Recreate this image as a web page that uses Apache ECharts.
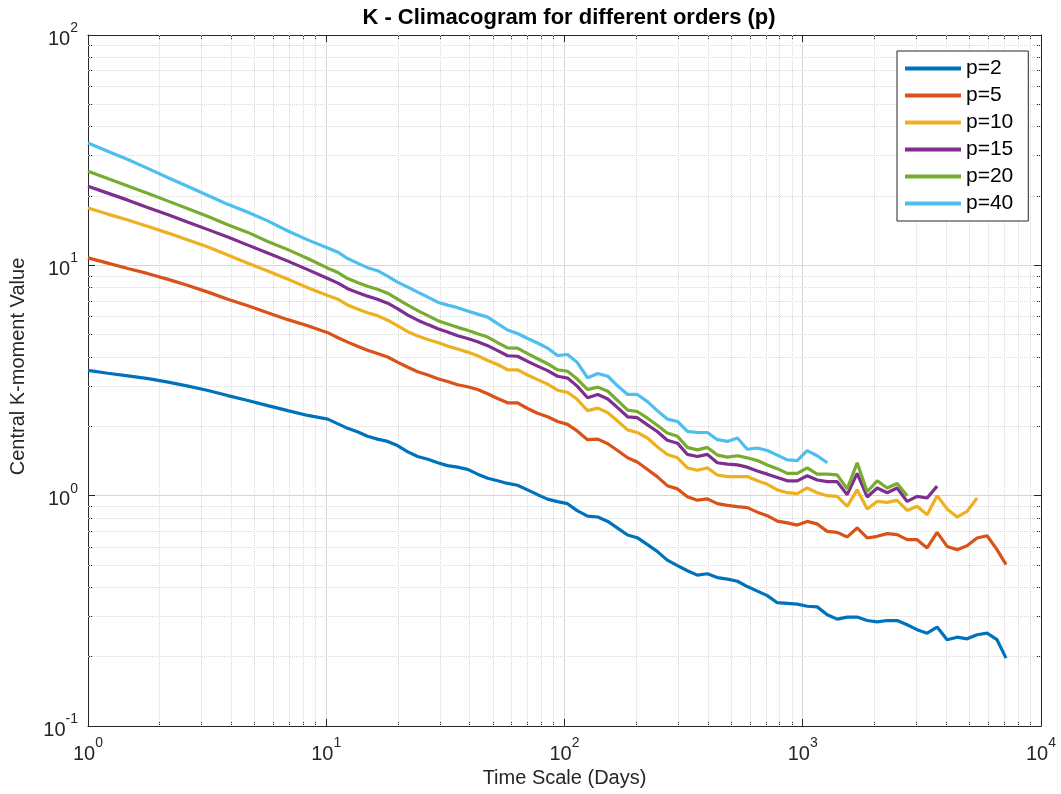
<!DOCTYPE html>
<html>
<head>
<meta charset="utf-8">
<title>K - Climacogram for different orders (p)</title>
<script src="https://cdn.jsdelivr.net/npm/echarts@6/dist/echarts.min.js"></script>
<style>
  html, body { margin: 0; padding: 0; background: #fff; }
  #chart { width: 1061px; height: 794px; }
</style>
</head>
<body>
<div id="chart"></div>
<script>
// time scales (days), shared by every order
const scales = [1, 1.21, 1.47, 1.79, 2.17, 2.63, 3.19, 3.86, 4.69, 5.68, 6.9, 8.36, 10.15,
  11.2, 12.3, 13.6, 14.9, 16.4, 18.1, 19.9, 22.0, 24.2, 26.7,
  29.4, 32.3, 35.6, 39.2, 43.2, 47.6, 52.4, 57.7, 63.5, 70.0,
  77.1, 84.9, 93.5, 103, 113, 125, 138, 152, 167, 184,
  202, 223, 245, 270, 298, 328, 361, 398, 438, 483,
  532, 585, 645, 710, 782, 861, 948, 1044, 1150, 1267,
  1395, 1537, 1692, 1864, 2053, 2261, 2490, 2743, 3021, 3327,
  3664, 4036, 4444, 4894, 5391, 5937, 6538, 7132];

// central K-moment values per order p
const p2 = [3.50, 3.40, 3.31, 3.22, 3.11, 2.99, 2.86, 2.72, 2.59, 2.46, 2.34, 2.23, 2.15,
  2.05, 1.96, 1.89, 1.81, 1.76, 1.72, 1.65, 1.55, 1.48, 1.44,
  1.39, 1.35, 1.33, 1.30, 1.24, 1.19, 1.16, 1.13, 1.11, 1.06,
  1.01, 0.966, 0.942, 0.923, 0.861, 0.815, 0.808, 0.773, 0.723, 0.675,
  0.657, 0.613, 0.573, 0.525, 0.497, 0.472, 0.452, 0.458, 0.441, 0.434,
  0.425, 0.403, 0.385, 0.368, 0.343, 0.341, 0.338, 0.331, 0.329, 0.304,
  0.291, 0.297, 0.297, 0.287, 0.283, 0.287, 0.287, 0.275, 0.262, 0.253,
  0.269, 0.237, 0.243, 0.239, 0.249, 0.253, 0.237, 0.197];
const p5 = [10.77, 10.22, 9.69, 9.20, 8.69, 8.17, 7.65, 7.13, 6.68, 6.23, 5.81, 5.47, 5.10,
  4.85, 4.64, 4.44, 4.28, 4.14, 4.00, 3.80, 3.61, 3.45, 3.34,
  3.22, 3.13, 3.03, 2.97, 2.89, 2.77, 2.64, 2.53, 2.53, 2.39,
  2.28, 2.20, 2.10, 2.04, 1.91, 1.75, 1.76, 1.68, 1.57, 1.46,
  1.40, 1.30, 1.21, 1.105, 1.07, 0.990, 0.956, 0.968, 0.923, 0.907,
  0.896, 0.887, 0.848, 0.819, 0.775, 0.762, 0.745, 0.773, 0.754, 0.700,
  0.693, 0.662, 0.724, 0.655, 0.666, 0.684, 0.677, 0.644, 0.644, 0.593,
  0.693, 0.602, 0.583, 0.606, 0.655, 0.670, 0.583, 0.502];
const p10 = [17.75, 16.69, 15.72, 14.75, 13.80, 12.87, 12.00, 11.08, 10.22, 9.44, 8.71, 8.00, 7.39,
  7.13, 6.72, 6.45, 6.23, 6.05, 5.78, 5.47, 5.15, 4.93, 4.76,
  4.62, 4.46, 4.33, 4.20, 4.05, 3.86, 3.71, 3.52, 3.52, 3.34,
  3.19, 3.05, 2.87, 2.81, 2.62, 2.34, 2.40, 2.29, 2.11, 1.93,
  1.88, 1.78, 1.63, 1.51, 1.46, 1.32, 1.29, 1.32, 1.23, 1.21,
  1.21, 1.21, 1.16, 1.12, 1.06, 1.03, 1.02, 1.08, 1.03, 1.00,
  0.993, 0.899, 1.06, 0.876, 0.944, 0.935, 0.954, 0.863, 0.899, 0.827,
  1.00, 0.876, 0.808, 0.855, 0.977];
const p15 = [22.03, 20.58, 19.19, 17.80, 16.60, 15.40, 14.29, 13.26, 12.24, 11.30, 10.43, 9.58, 8.76,
  8.37, 7.92, 7.61, 7.35, 7.13, 6.85, 6.49, 6.08, 5.78, 5.53,
  5.30, 5.13, 4.95, 4.81, 4.66, 4.48, 4.26, 4.05, 4.03, 3.83,
  3.65, 3.49, 3.30, 3.24, 2.99, 2.66, 2.75, 2.63, 2.41, 2.20,
  2.18, 2.03, 1.90, 1.74, 1.69, 1.51, 1.48, 1.51, 1.39, 1.37,
  1.36, 1.33, 1.28, 1.24, 1.20, 1.16, 1.16, 1.22, 1.17, 1.15,
  1.15, 1.01, 1.25, 0.987, 1.08, 1.03, 1.08, 0.944, 0.993, 0.977,
  1.10];
const p20 = [25.6, 23.8, 22.1, 20.5, 19.0, 17.6, 16.3, 15.0, 13.9, 12.7, 11.7, 10.7, 9.72,
  9.30, 8.76, 8.41, 8.12, 7.88, 7.57, 7.13, 6.72, 6.36, 6.05,
  5.75, 5.56, 5.38, 5.23, 5.05, 4.88, 4.62, 4.38, 4.37, 4.14,
  3.93, 3.74, 3.52, 3.47, 3.21, 2.89, 2.96, 2.84, 2.59, 2.35,
  2.32, 2.17, 2.02, 1.87, 1.81, 1.62, 1.58, 1.62, 1.50, 1.47,
  1.49, 1.46, 1.42, 1.36, 1.31, 1.25, 1.25, 1.32, 1.24, 1.24,
  1.23, 1.07, 1.39, 1.04, 1.16, 1.08, 1.13, 1.00];
const p40 = [34.0, 31.3, 28.8, 26.3, 24.0, 22.0, 20.1, 18.4, 17.0, 15.6, 14.1, 12.9, 11.9,
  11.4, 10.7, 10.2, 9.77, 9.48, 8.98, 8.45, 8.04, 7.65, 7.28,
  6.92, 6.72, 6.55, 6.33, 6.14, 5.96, 5.58, 5.24, 5.06, 4.81,
  4.60, 4.37, 4.06, 4.10, 3.79, 3.25, 3.39, 3.30, 3.00, 2.75,
  2.75, 2.56, 2.34, 2.15, 2.10, 1.90, 1.88, 1.88, 1.75, 1.72,
  1.78, 1.59, 1.61, 1.57, 1.50, 1.43, 1.42, 1.57, 1.49, 1.39];

const seriesNames = ['p=2', 'p=5', 'p=10', 'p=15', 'p=20', 'p=40'];

// minor grid / tick positions (log axes)
const minorX = [2, 3, 4, 5, 6, 7, 8, 9, 20, 30, 40, 50, 60, 70, 80, 90,
  200, 300, 400, 500, 600, 700, 800, 900, 2000, 3000, 4000, 5000, 6000, 7000, 8000, 9000];
const minorY = [0.2, 0.3, 0.4, 0.5, 0.6, 0.7, 0.8, 0.9, 2, 3, 4, 5, 6, 7, 8, 9,
  20, 30, 40, 50, 60, 70, 80, 90];

const colors = ['#0072BD', '#D95319', '#EDB120', '#7E2F8E', '#77AC30', '#4DBEEE'];
const font = "'Liberation Sans', Arial, Helvetica, sans-serif";
const axisColor = '#262626';

// 10^n tick labels
function powLabel(v) {
    const e = Math.round(Math.log10(v));
    return '{b|10}{s|' + e + '}';
}
const labelRich = {
    b: { fontSize: 20, fontFamily: font, color: axisColor, lineHeight: 28, verticalAlign: 'bottom' },
    s: { fontSize: 14, fontFamily: font, color: axisColor, lineHeight: 28, verticalAlign: 'top' }
};

let myChart = echarts.init(document.getElementById('chart'));

const allValues = [p2, p5, p10, p15, p20, p40];
let lines = allValues.map((vals, k) => ({
    name: seriesNames[k],
    type: 'line',
    symbol: 'none',
    zlevel: 1,
    z: 3,
    lineStyle: { width: 3.2, color: colors[k] },
    itemStyle: { color: colors[k] },
    data: vals.map((v, i) => [scales[i], v])
}));

// dotted minor grid, on the bottom layer under the curves
lines.unshift({
    name: 'minorGrid',
    type: 'line',
    data: [],
    zlevel: 0,
    z: 0,
    silent: true,
    markLine: {
        silent: true,
        symbol: ['none', 'none'],
        label: { show: false },
        animation: false,
        lineStyle: { type: 'dotted', color: '#dadada', width: 1 },
        data: minorX.map(v => ({ xAxis: v })).concat(minorY.map(v => ({ yAxis: v })))
    }
});

const boxLine = { show: true, onZero: false, lineStyle: { color: axisColor, width: 1 } };
const boxTick = { show: true, inside: true, length: 7, lineStyle: { color: axisColor } };

// axes that only carry the short minor ticks
function minorAxis(pos, min, max, vals) {
    return {
        type: 'log',
        logBase: 10,
        min: min,
        max: max,
        position: pos,
        axisLine: { show: false, onZero: false },
        axisTick: { show: true, inside: true, length: 4, customValues: vals, lineStyle: { color: axisColor } },
        axisLabel: { show: false },
        splitLine: { show: false }
    };
}

myChart.setOption({
    animation: false,
    backgroundColor: '#fff',
    title: {
        text: 'K - Climacogram for different orders (p)',
        left: 564,
        textAlign: 'center',
        top: 2,
        textStyle: { fontSize: 22, fontWeight: 'bold', fontFamily: font, color: '#000' }
    },
    grid: { left: 88, right: 20, top: 35, bottom: 68, containLabel: false },
    legend: {
        data: seriesNames,
        orient: 'vertical',
        left: 897,
        top: 51,
        zlevel: 2,
        padding: [7, 15, 7, 8],
        itemGap: 6,
        itemWidth: 56,
        itemHeight: 4,
        icon: 'rect',
        itemStyle: { borderWidth: 0 },
        borderColor: axisColor,
        borderWidth: 1,
        borderRadius: 0,
        backgroundColor: '#fff',
        textStyle: { fontSize: 21, fontFamily: font, color: '#000' }
    },
    xAxis: [{
        type: 'log',
        logBase: 10,
        min: 1,
        max: 10000,
        position: 'bottom',
        axisLine: boxLine,
        axisTick: boxTick,
        splitLine: { show: true, lineStyle: { color: '#d6d6d6', width: 1 } },
        axisLabel: { formatter: powLabel, rich: labelRich, margin: 10 },
        name: 'Time Scale (Days)',
        nameLocation: 'middle',
        nameGap: 41,
        nameTextStyle: { fontSize: 20, fontFamily: font, color: axisColor }
    }, {
        type: 'log',
        logBase: 10,
        min: 1,
        max: 10000,
        position: 'top',
        axisLine: boxLine,
        axisTick: boxTick,
        splitLine: { show: false },
        axisLabel: { show: false }
    },
    minorAxis('bottom', 1, 10000, minorX),
    minorAxis('top', 1, 10000, minorX)],
    yAxis: [{
        type: 'log',
        logBase: 10,
        min: 0.1,
        max: 100,
        position: 'left',
        axisLine: boxLine,
        axisTick: boxTick,
        splitLine: { show: true, lineStyle: { color: '#d6d6d6', width: 1 } },
        axisLabel: { formatter: powLabel, rich: labelRich, margin: 10 },
        name: 'Central K-moment Value',
        nameLocation: 'middle',
        nameGap: 60,
        nameTextStyle: { fontSize: 20, fontFamily: font, color: axisColor, padding: [0, 0, 0, 28] }
    }, {
        type: 'log',
        logBase: 10,
        min: 0.1,
        max: 100,
        position: 'right',
        axisLine: boxLine,
        axisTick: boxTick,
        splitLine: { show: false },
        axisLabel: { show: false }
    },
    minorAxis('left', 0.1, 100, minorY),
    minorAxis('right', 0.1, 100, minorY)],
    series: lines
});
</script>
</body>
</html>
